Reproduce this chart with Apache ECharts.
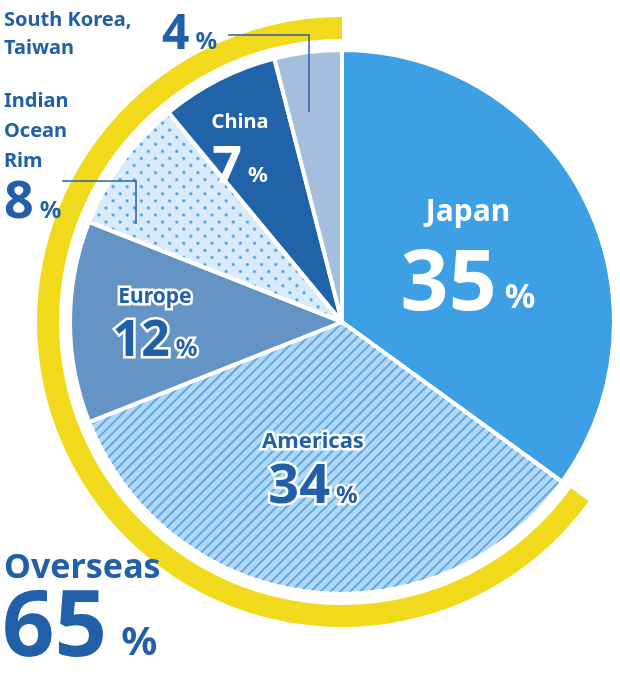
<!DOCTYPE html>
<html><head><meta charset="utf-8">
<script src="https://cdn.jsdelivr.net/npm/echarts@6/dist/echarts.min.js"></script>
<style>html,body{margin:0;padding:0;background:#fff}#c{width:620px;height:684px}</style>
</head><body><div id="c"></div>
<script>
const categories = ['Japan','Americas','Europe','Indian Ocean Rim','China','South Korea, Taiwan'];
const values = [35,34,12,8,7,4];
const overseasShare = 65;
const colors = ['#3d9fe4','#b2d8f6','#6494c6','#d9ebfa','#2163a9','#a4bfdd'];
const F = '"Noto Sans", sans-serif';
const dark = '#2160a8';

const data = categories.map((c,i)=>{
  const d = {name:c, value:values[i], itemStyle:{color:colors[i]}};
  if (i===1) d.itemStyle.decal = {symbol:'rect', symbolSize:1, color:'#5aa9ea', dashArrayX:[1,0], dashArrayY:[1.5,4.5], rotation:-Math.PI/4};
  if (i===3) d.itemStyle.decal = {symbol:'circle', symbolSize:0.8, color:'#3f9ae6', dashArrayX:[4,5.5], dashArrayY:[4,5.5], rotation:Math.PI/4};
  return d;
});

function lab(x,y,name,val,sz,col,stroke,align){
  const out=[];
  const sw = stroke?5:0, sc = stroke||'transparent';
  if(name){ out.push({type:'text', z:100, x:x, y:y, style:{text:name, fill:col, font:'bold '+sz[0]+'px '+F, textAlign:align||'center', textVerticalAlign:'middle', stroke:sc, lineWidth:sw}}); }
  out.push({type:'text', z:100, x:x, y:y+sz[3], style:{rich:{
      n:{fontSize:sz[1],fontWeight:'bold',fontFamily:F,fill:col,stroke:sc,lineWidth:sw},
      p:{fontSize:sz[2],fontWeight:'bold',fontFamily:F,fill:col,stroke:sc,lineWidth:sw,padding:[sz[1]*0.3,0,0,sz[4]||6]}},
    text:'{n|'+val+'}{p|%}', textAlign:align||'center', textVerticalAlign:'middle'}});
  return out;
}

const g = [].concat(
  lab(468,212,categories[0],values[0],[30,84,34,74,8],'#fff',null),
  lab(313,442,categories[1],values[1],[22,54,24,46],dark,'#fff'),
  lab(155,297,categories[2],values[2],[21,50,24,45],dark,'#fff'),
  lab(240,122,categories[4],values[4],[20,52,22,46],'#fff',null),
  [
   {type:'text',z:100,x:4,y:6,style:{text:'South Korea,\nTaiwan',font:'bold 20px '+F,fill:dark,lineHeight:28}},
   {type:'text',z:100,x:4,y:86,style:{text:'Indian\nOcean\nRim',font:'bold 20px '+F,fill:dark,lineHeight:30}},
   {type:'polyline',z:100,shape:{points:[[228,35],[309,35],[309,112]]},style:{stroke:'#2a5f9e',lineWidth:1.5,fill:null}},
   {type:'polyline',z:100,shape:{points:[[62,181],[136,181],[136,224]]},style:{stroke:'#2a5f9e',lineWidth:1.5,fill:null}},
   {type:'text',z:100,x:4,y:568,style:{text:'Overseas',font:'bold 34px '+F,fill:dark,textVerticalAlign:'middle'}}
  ],
  lab(162,35,null,values[5],[0,48,24,0],dark,null,'left'),
  lab(4,203,null,values[3],[0,52,24,0],dark,null,'left'),
  lab(2,630,null,overseasShare,[0,92,40,0,14],dark,null,'left')
);

const chart = echarts.init(document.getElementById('c'));
chart.setOption({
  animation:false,
  series:[
    {type:'pie', center:[342,322], radius:[283,305], startAngle:90, clockwise:true, silent:true, label:{show:false},
     data:[{value:100-overseasShare,itemStyle:{color:'transparent'}},{value:overseasShare,itemStyle:{color:'#f1da1c'}}]},
    {type:'pie', center:[342,322], radius:[0,272], startAngle:90, clockwise:true, label:{show:false},
     itemStyle:{borderColor:'#fff',borderWidth:4}, data:data}
  ],
  graphic:g
});
</script></body></html>
